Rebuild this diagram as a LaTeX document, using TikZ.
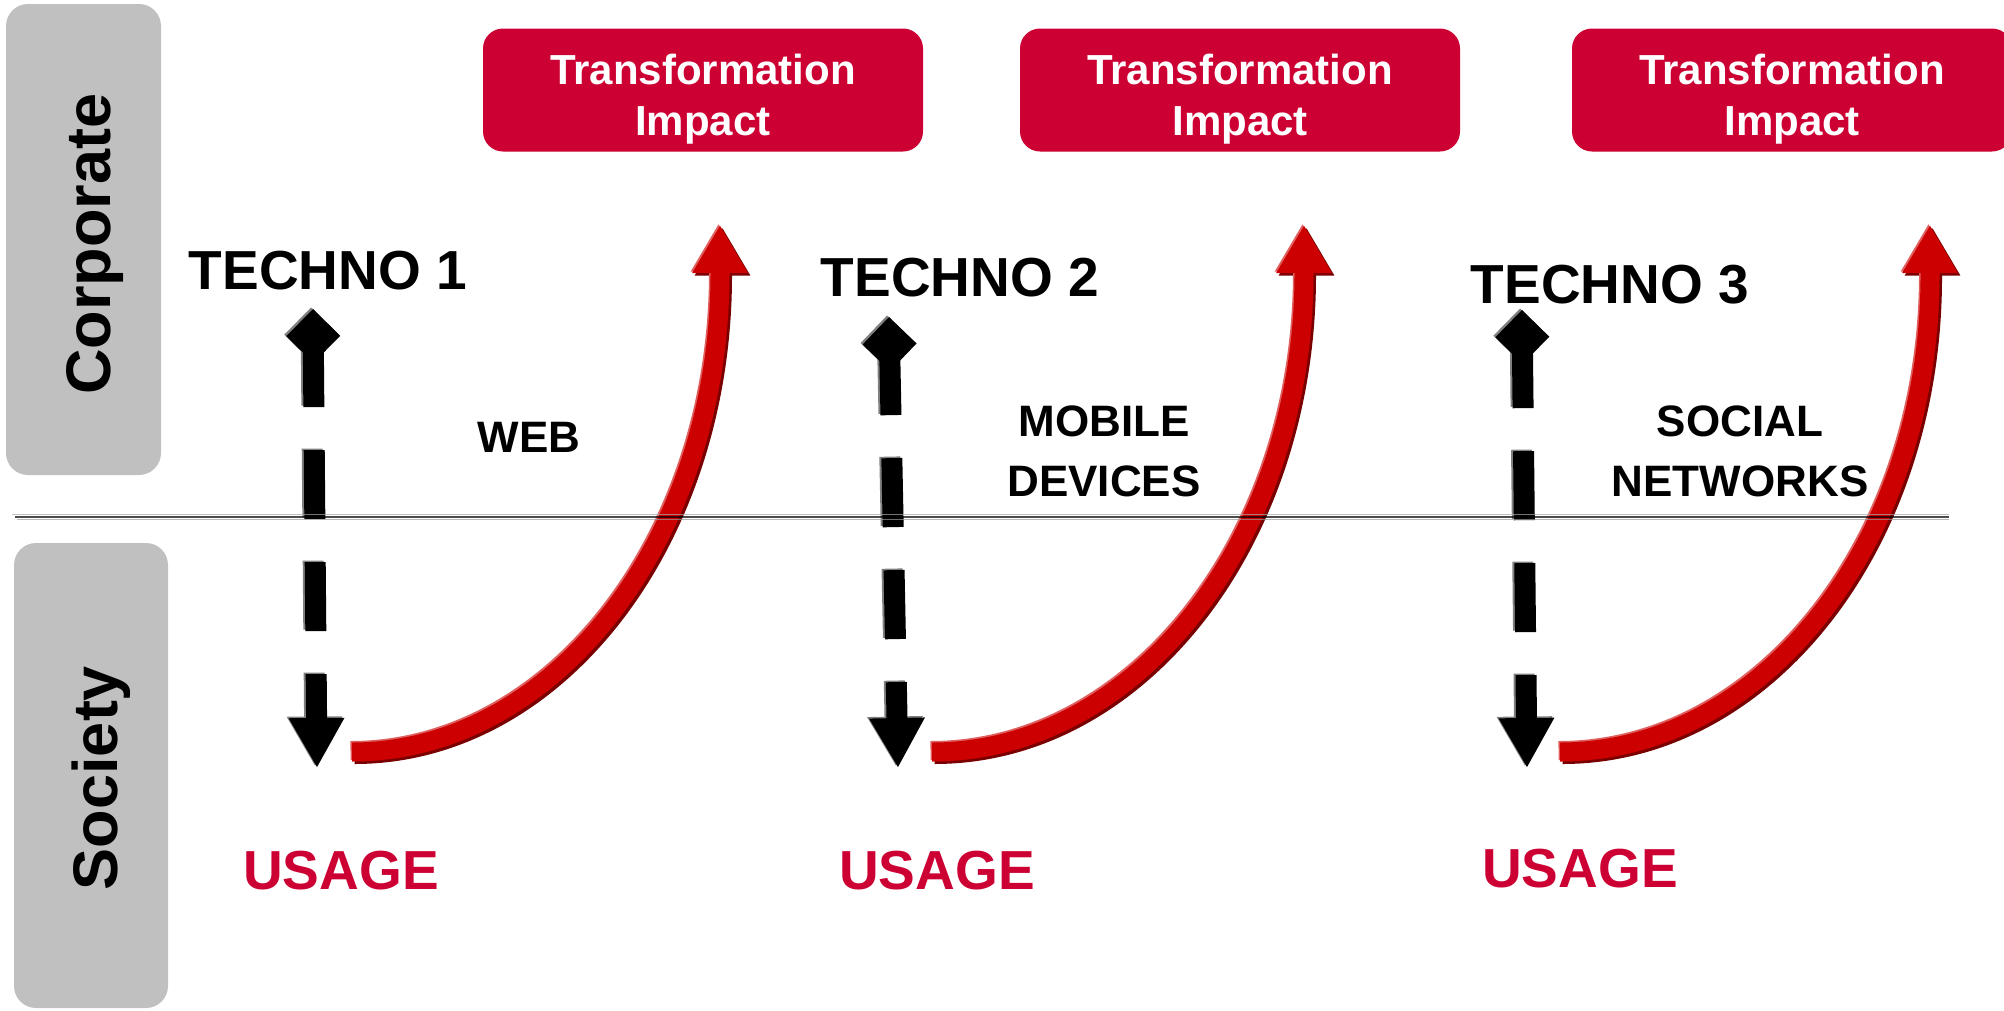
\documentclass[tikz,border=0pt]{standalone}
\usepackage{fontspec}
\setmainfont{Liberation Sans}
\usetikzlibrary{arrows.meta}
\definecolor{boxred}{HTML}{CC0033}
\definecolor{arrred}{HTML}{CC0000}
\definecolor{arrdark}{HTML}{7A0000}
\definecolor{arrlight}{HTML}{E06060}
\definecolor{panelgray}{HTML}{C0C0C0}
\newcommand\myredarrow[4]{%
  \foreach \col/\sx/\sy in {arrdark/2.5/-2.5, arrlight/-1.5/1.5, arrred/0/0}{%
    \draw[redarr, draw=\col, transform canvas={shift={(\sx pt,\sy pt)}}]
      (#1) .. controls +(#4,0) and +(0,265) .. (#2) -- (#3);}}
\newcommand\myblackarrow[2]{%
  \draw[blackarr, draw=gray, transform canvas={shift={(-2pt,1.5pt)}}] (#1) -- (#2);
  \draw[blackarr] (#1) -- (#2);}
\begin{document}
\begin{tikzpicture}[x=1pt,y=-1pt,
  panel/.style={rectangle, fill=panelgray, rounded corners=22pt, inner sep=0pt},
  paneltext/.style={rotate=90, anchor=base, inner sep=0pt, font=\fontsize{63}{70}\selectfont\bfseries},
  impbox/.style={rectangle, fill=boxred, rounded corners=20pt, minimum width=440pt, minimum height=123pt,
    inner sep=0pt, align=center, text=white, font=\fontsize{42}{51}\selectfont\bfseries},
  techtext/.style={anchor=base, inner sep=0pt, font=\fontsize{55}{60}\selectfont\bfseries},
  usagetext/.style={anchor=base, inner sep=0pt, text=boxred, font=\fontsize{55}{60}\selectfont\bfseries},
  midtext/.style={inner sep=0pt, align=center, font=\fontsize{44}{60}\selectfont\bfseries},
  redarr/.style={line width=19pt, -{Triangle[length=48pt,width=52pt]}},
  blackarr/.style={line width=21pt, draw=black, dash pattern=on 69pt off 43pt, dash phase=10pt,
    {Diamond[length=54pt,width=54pt]}-{Triangle[length=50pt,width=52pt]}}
]
\useasboundingbox (0,0) rectangle (2004,1010);
\clip (0,0) rectangle (2004,1010);

% side panels
\node[panel, minimum width=155pt, minimum height=471pt] (corp) at (83.5,239.5) {};
\node[panel, minimum width=154pt, minimum height=465pt] (soc) at (91,775.5) {};
\node[paneltext] (corptext) at (110,244) {Corporate};
\node[paneltext] (soctext) at (117,778) {Society};

% impact boxes
\node[impbox] (imp1) at (703,90) {\rule{0pt}{48pt}Transformation\\Impact};
\node[impbox] (imp2) at (1240,90) {\rule{0pt}{48pt}Transformation\\Impact};
\node[impbox] (imp3) at (1792,90) {\rule{0pt}{48pt}Transformation\\Impact};

% techno labels
\node[techtext] (tech1) at (328,289) {TECHNO 1};
\node[techtext] (tech2) at (960,296) {TECHNO 2};
\node[techtext] (tech3) at (1610,303) {TECHNO 3};

% middle labels
\node[midtext, anchor=base] (web) at (529,452) {WEB};
\node[midtext] (mob) at (1104,451.5) {MOBILE\\DEVICES};
\node[midtext] (socnet) at (1740,451.5) {SOCIAL\\NETWORKS};

% usage labels
\node[usagetext] (use1) at (341,889) {USAGE};
\node[usagetext] (use2) at (937,889) {USAGE};
\node[usagetext] (use3) at (1580,887) {USAGE};

% black dashed arrows
\coordinate (b1t) at (313,309);
\coordinate (b1b) at (317,768);
\coordinate (b2t) at (889,317);
\coordinate (b2b) at (898,768);
\coordinate (b3t) at (1522,310);
\coordinate (b3b) at (1527,768);
\myblackarrow{b1t}{b1b}
\myblackarrow{b2t}{b2b}
\myblackarrow{b3t}{b3b}

% red curved arrows
\coordinate (r1s) at (352,752);
\coordinate (r1m) at (720,273);
\coordinate (r1e) at (720,225);
\coordinate (r2s) at (932,752);
\coordinate (r2m) at (1304,273);
\coordinate (r2e) at (1304,225);
\coordinate (r3s) at (1560,752);
\coordinate (r3m) at (1930,275);
\coordinate (r3e) at (1930,225);
\myredarrow{r1s}{r1m}{r1e}{203}
\myredarrow{r2s}{r2m}{r2e}{205}
\myredarrow{r3s}{r3m}{r3e}{204}

% separator line
\coordinate (sepL) at (12,517);
\coordinate (sepR) at (1949,517);
\draw[gray!70, line width=1.3pt, opacity=0.7] ([yshift=2.5pt]sepL) -- ([yshift=2.5pt]sepR);
\draw[black, line width=1.3pt, opacity=0.7] ([xshift=3pt]sepL) -- (sepR);
\draw[gray!80, line width=1.3pt, opacity=0.7] ([xshift=5pt,yshift=-2.5pt]sepL) -- ([yshift=-2.5pt]sepR);
\end{tikzpicture}
\end{document}
